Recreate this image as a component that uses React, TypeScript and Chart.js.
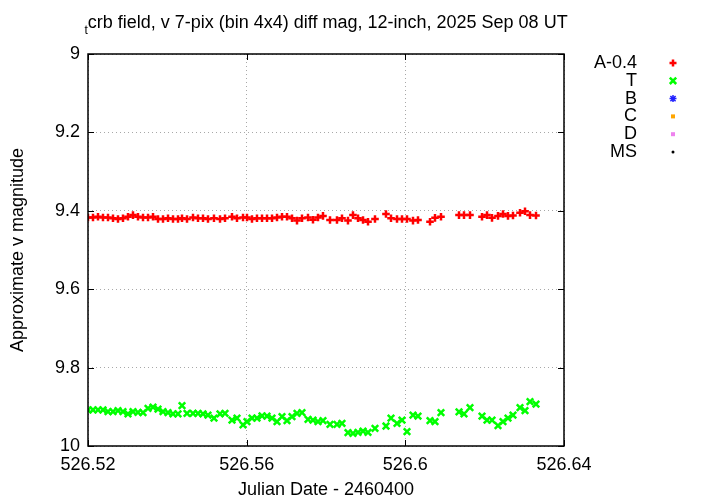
import React, { useEffect, useRef } from 'react';
import { Chart, registerables } from 'chart.js';

Chart.register(...registerables);

const titleSub = 't';
const titleMain = 'crb field, v 7-pix (bin 4x4) diff mag, 12-inch, 2025 Sep 08 UT';
const xAxisTitle = 'Julian Date - 2460400';
const yAxisTitle = 'Approximate v magnitude';

const xTicks = [526.52, 526.56, 526.6, 526.64];
const yTicks = [9, 9.2, 9.4, 9.6, 9.8, 10];

const legendLabels = ['A-0.4', 'T', 'B', 'C', 'D', 'MS'];
const seriesColors = ['#ff0000', '#00ff00', '#2020ff', '#ffa500', '#ee82ee', '#000000'];

// Julian Date - 2460400
const jdTimes = [
  526.52000, 526.52126, 526.52252, 526.52378, 526.52504, 526.52630, 526.52756, 526.52882,
  526.53008, 526.53134, 526.53260, 526.53387, 526.53513, 526.53639, 526.53765, 526.53891,
  526.54017, 526.54143, 526.54269, 526.54370, 526.54496, 526.54647, 526.54773, 526.54899,
  526.55025, 526.55176, 526.55328, 526.55454, 526.55630, 526.55756, 526.55908, 526.56008,
  526.56134, 526.56260, 526.56387, 526.56513, 526.56639, 526.56765, 526.56891, 526.57017,
  526.57143, 526.57269, 526.57395, 526.57546, 526.57672, 526.57798, 526.57924, 526.58101,
  526.58277, 526.58403, 526.58554, 526.58680, 526.58807, 526.58933, 526.59059, 526.59235,
  526.59512, 526.59639, 526.59790, 526.59916, 526.60042, 526.60193, 526.60319, 526.60622,
  526.60748, 526.60899, 526.61353, 526.61479, 526.61630, 526.61933, 526.62059, 526.62185,
  526.62336, 526.62462, 526.62588, 526.62714, 526.62891, 526.63017, 526.63143, 526.63294,
];

// A - 0.4
const magA = [
  9.417, 9.417, 9.415, 9.417, 9.417, 9.419, 9.421, 9.419,
  9.415, 9.411, 9.415, 9.417, 9.417, 9.415, 9.421, 9.421,
  9.419, 9.421, 9.421, 9.419, 9.421, 9.417, 9.419, 9.419,
  9.421, 9.419, 9.421, 9.419, 9.415, 9.419, 9.417, 9.417,
  9.421, 9.419, 9.419, 9.419, 9.419, 9.417, 9.415, 9.415,
  9.419, 9.425, 9.419, 9.417, 9.423, 9.417, 9.413, 9.4235,
  9.4235, 9.419, 9.425, 9.411, 9.419, 9.4235, 9.428, 9.421,
  9.408, 9.419, 9.421, 9.421, 9.421, 9.425, 9.4235, 9.428,
  9.418, 9.415, 9.411, 9.411, 9.411, 9.415, 9.411, 9.418,
  9.413, 9.408, 9.413, 9.412, 9.405, 9.401, 9.411, 9.412,
];

// T
const magT = [
  9.908, 9.908, 9.908, 9.908, 9.9125, 9.9125, 9.910, 9.9125,
  9.918, 9.9125, 9.914, 9.915, 9.904, 9.901, 9.906, 9.9125,
  9.915, 9.918, 9.918, 9.897, 9.9167, 9.9167, 9.9167, 9.918,
  9.921, 9.929, 9.918, 9.917, 9.934, 9.929, 9.946, 9.938,
  9.929, 9.929, 9.923, 9.9235, 9.929, 9.938, 9.925, 9.935,
  9.925, 9.917, 9.915, 9.932, 9.934, 9.938, 9.935, 9.945,
  9.945, 9.942, 9.966, 9.968, 9.965, 9.962, 9.965, 9.955,
  9.949, 9.929, 9.942, 9.934, 9.9635, 9.921, 9.9235, 9.935,
  9.938, 9.915, 9.913, 9.918, 9.902, 9.9235, 9.934, 9.934,
  9.948, 9.938, 9.929, 9.921, 9.902, 9.910, 9.887, 9.893,
];

const FONT = '"Liberation Sans", Arial, sans-serif';
const FS = 18;

function drawMarker(ctx: CanvasRenderingContext2D, kind: number, x: number, y: number, color: string) {
  ctx.save();
  ctx.strokeStyle = color;
  ctx.fillStyle = color;
  ctx.lineWidth = 2.5;
  const r = 3.5;
  ctx.beginPath();
  if (kind === 0 || kind === 2) {
    ctx.moveTo(x - r, y); ctx.lineTo(x + r, y);
    ctx.moveTo(x, y - r); ctx.lineTo(x, y + r);
  }
  if (kind === 1 || kind === 2) {
    const d = kind === 2 ? 2.6 : 3.2;
    ctx.moveTo(x - d, y - d); ctx.lineTo(x + d, y + d);
    ctx.moveTo(x - d, y + d); ctx.lineTo(x + d, y - d);
  }
  if (kind === 2) ctx.lineWidth = 1.5;
  ctx.stroke();
  if (kind === 3 || kind === 4) {
    ctx.fillRect(x - 2, y - 2, 4, 4);
  }
  if (kind === 5) {
    ctx.beginPath();
    ctx.arc(x, y, 1.5, 0, Math.PI * 2);
    ctx.fill();
  }
  ctx.restore();
}

const decorPlugin = {
  id: 'gnuplotDecor',
  afterDraw(chart: any) {
    const ctx: CanvasRenderingContext2D = chart.ctx;
    const { left, right, top, bottom } = chart.chartArea;
    const xs = chart.scales.x;
    const ys = chart.scales.y;
    ctx.save();
    // border box
    ctx.strokeStyle = '#000';
    ctx.lineWidth = 1.5;
    ctx.strokeRect(left, top, right - left, bottom - top);
    // inside ticks
    ctx.lineWidth = 1;
    ctx.beginPath();
    const tl = 6;
    xTicks.forEach((v) => {
      const px = Math.round(xs.getPixelForValue(v)) + 0.5;
      ctx.moveTo(px, bottom); ctx.lineTo(px, bottom - tl);
      ctx.moveTo(px, top); ctx.lineTo(px, top + tl);
    });
    yTicks.forEach((v) => {
      const py = Math.round(ys.getPixelForValue(v)) + 0.5;
      ctx.moveTo(left, py); ctx.lineTo(left + tl, py);
      ctx.moveTo(right, py); ctx.lineTo(right - tl, py);
    });
    ctx.stroke();

    // title with subscript
    ctx.fillStyle = '#000';
    ctx.textBaseline = 'alphabetic';
    ctx.textAlign = 'left';
    ctx.font = `${FS}px ${FONT}`;
    const wMain = ctx.measureText(titleMain).width;
    ctx.font = `12px ${FONT}`;
    const wSub = ctx.measureText(titleSub).width;
    const cx = (left + right) / 2;
    const startX = cx - (wMain + wSub) / 2;
    ctx.fillText(titleSub, startX, 34);
    ctx.font = `${FS}px ${FONT}`;
    ctx.fillText(titleMain, startX + wSub, 28);

    // legend
    ctx.textAlign = 'right';
    ctx.textBaseline = 'middle';
    legendLabels.forEach((lab, i) => {
      const y = 63 + i * 17.8;
      ctx.fillStyle = '#000';
      ctx.font = `${FS}px ${FONT}`;
      ctx.fillText(lab, 637, y);
      drawMarker(ctx, i, 673, y, seriesColors[i]);
    });
    ctx.restore();
  },
};

export default function App() {
  const ref = useRef<HTMLCanvasElement>(null);
  useEffect(() => {
    const ptsA = jdTimes.map((t, i) => ({ x: t, y: magA[i] }));
    const ptsT = jdTimes.map((t, i) => ({ x: t, y: magT[i] }));
    const chart = new Chart(ref.current as HTMLCanvasElement, {
      type: 'scatter',
      data: {
        datasets: [
          {
            label: legendLabels[0],
            data: ptsA,
            pointStyle: 'cross',
            pointRadius: 3.8,
            pointBorderWidth: 2.5,
            borderColor: seriesColors[0],
            backgroundColor: seriesColors[0],
          },
          {
            label: legendLabels[1],
            data: ptsT,
            pointStyle: 'crossRot',
            pointRadius: 4.6,
            pointBorderWidth: 2.5,
            borderColor: seriesColors[1],
            backgroundColor: seriesColors[1],
          },
        ],
      },
      options: {
        responsive: false,
        animation: false,
        layout: { padding: { top: 54, right: 156, left: 0, bottom: 0 } },
        plugins: {
          legend: { display: false },
          title: { display: false },
          tooltip: { enabled: false },
        },
        scales: {
          x: {
            type: 'linear',
            min: 526.52,
            max: 526.64,
            afterFit: (s: any) => { s.height = 58; },
            afterBuildTicks: (s: any) => { s.ticks = xTicks.map((v) => ({ value: v })); },
            ticks: {
              padding: 8,
              color: '#000',
              font: { family: FONT, size: FS },
              maxRotation: 0,
              callback: (v: any) => String(Number(Number(v).toFixed(2))),
            },
            grid: { color: '#a8a8a8', lineWidth: 1, drawTicks: false },
            border: { display: false, dash: [1, 3] },
            title: {
              display: true,
              text: xAxisTitle,
              color: '#000',
              font: { family: FONT, size: FS },
              padding: { top: 4, bottom: 3 },
            },
          },
          y: {
            type: 'linear',
            reverse: true,
            min: 9,
            max: 10,
            afterFit: (s: any) => { s.width = 88; },
            afterBuildTicks: (s: any) => { s.ticks = yTicks.map((v) => ({ value: v })); },
            ticks: {
              padding: 8,
              color: '#000',
              font: { family: FONT, size: FS },
              callback: (v: any) => String(Number(Number(v).toFixed(1))),
            },
            grid: { color: '#a8a8a8', lineWidth: 1, drawTicks: false },
            border: { display: false, dash: [1, 3] },
            title: {
              display: true,
              text: yAxisTitle,
              color: '#000',
              font: { family: FONT, size: FS },
              padding: { top: 7, bottom: 4 },
            },
          },
        },
      },
      plugins: [decorPlugin],
    });
    return () => chart.destroy();
  }, []);
  return (
    <div style={{ position: 'fixed', left: 0, top: 0, width: 720, height: 504, background: '#fff' }}>
      <canvas ref={ref} width={720} height={504} />
    </div>
  );
}
